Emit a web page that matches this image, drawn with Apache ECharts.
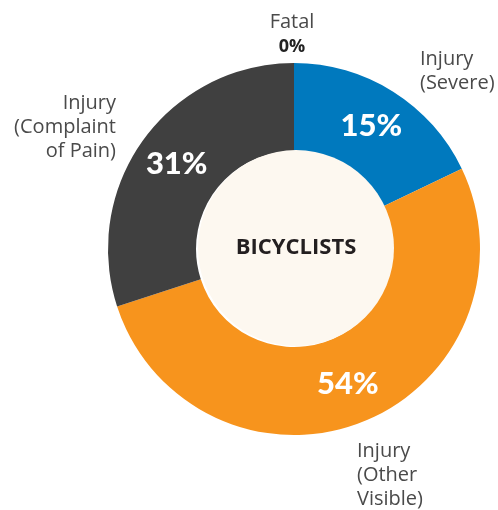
<!DOCTYPE html>
<html>
<head>
<meta charset="utf-8">
<script src="https://cdn.jsdelivr.net/npm/echarts@6/dist/echarts.min.js"></script>
<style>
  html, body { margin: 0; padding: 0; background: #fff; }
  #chart { width: 498px; height: 510px; }
</style>
</head>
<body>
<div id="chart"></div>
<script>
// slice sizes as drawn in the picture (arc sizes), and the printed labels
const categories = ['Fatal', 'Injury\n(Severe)', 'Injury\n(Other\nVisible)', 'Injury\n(Complaint\nof Pain)']
const shares = [0, 17.9, 52.1, 30.0]
const pctLabels = ['0%', '15%', '54%', '31%']
const colors = ['#404040', '#0079be', '#f7941d', '#404040']
const centerText = 'BICYCLISTS'

// where the outer category labels sit
const outerLabelPos = [
  { x: 292, y: 35, align: 'center' },
  { x: 420, y: 71, align: 'left' },
  { x: 357, y: 475, align: 'left' },
  { x: 116, y: 127, align: 'right' },
]

const font = '"Open Sans", Lato, sans-serif'
const chart = echarts.init(document.getElementById('chart'))

const donutData = shares.map((v, i) => ({
  value: v,
  name: categories[i],
  itemStyle: { color: colors[i] },
  label: { show: i > 0 },
}))

chart.setOption({
  animation: false,
  series: [
    {
      // the donut ring with the percentages
      type: 'pie',
      center: [294, 249],
      radius: [98, 186],
      startAngle: 90,
      silent: true,
      avoidLabelOverlap: false,
      label: {
        position: 'inside',
        formatter: p => pctLabels[p.dataIndex],
        color: '#fff',
        fontFamily: 'Lato, sans-serif',
        fontWeight: 900,
        fontSize: 31,
      },
      labelLine: { show: false },
      data: donutData,
    },
    {
      // category names around the ring
      type: 'pie',
      center: [294, 249],
      radius: [98, 186],
      startAngle: 90,
      silent: true,
      avoidLabelOverlap: false,
      itemStyle: { color: 'rgba(0,0,0,0)' },
      label: {
        position: 'outside',
        formatter: p => p.dataIndex === 0
          ? '{n|' + categories[0] + '}\n{b|' + pctLabels[0] + '}'
          : '{n|' + categories[p.dataIndex].split('\n').join('}\n{n|') + '}',
        rich: {
          n: { fontFamily: font, fontSize: 20, color: '#4a4a4a', lineHeight: 24 },
          b: { fontFamily: font, fontSize: 18, fontWeight: 'bold', color: '#222', lineHeight: 26 },
        },
      },
      labelLine: { show: false },
      labelLayout: p => ({
        x: outerLabelPos[p.dataIndex].x,
        y: outerLabelPos[p.dataIndex].y,
        align: outerLabelPos[p.dataIndex].align,
        verticalAlign: 'middle',
      }),
      data: shares.map((v, i) => ({ value: v, name: categories[i] })),
    },
    {
      // cream centre disc
      type: 'pie',
      center: [296, 248],
      radius: [0, 98],
      silent: true,
      itemStyle: { color: '#fdf8f0' },
      label: {
        position: 'center',
        formatter: centerText,
        color: '#231f20',
        fontFamily: font,
        fontWeight: 'bold',
        fontSize: 22,
      },
      labelLine: { show: false },
      data: [{ value: 1, name: centerText }],
    },
  ],
})
</script>
</body>
</html>
